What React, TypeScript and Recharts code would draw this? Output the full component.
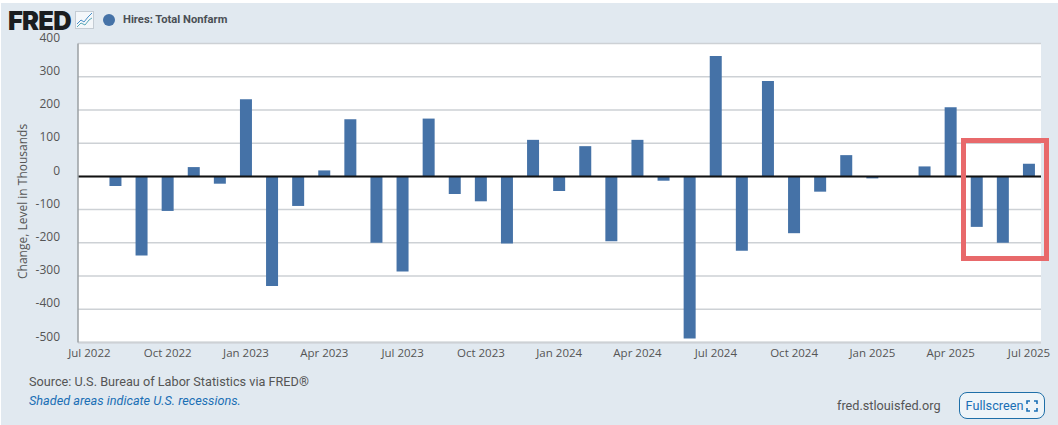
import { Bar, BarChart, CartesianGrid, Legend, ReferenceLine, XAxis, YAxis } from "recharts";

const months = [
  "Jul 2022", "Aug 2022", "Sep 2022", "Oct 2022", "Nov 2022", "Dec 2022",
  "Jan 2023", "Feb 2023", "Mar 2023", "Apr 2023", "May 2023", "Jun 2023",
  "Jul 2023", "Aug 2023", "Sep 2023", "Oct 2023", "Nov 2023", "Dec 2023",
  "Jan 2024", "Feb 2024", "Mar 2024", "Apr 2024", "May 2024", "Jun 2024",
  "Jul 2024", "Aug 2024", "Sep 2024", "Oct 2024", "Nov 2024", "Dec 2024",
  "Jan 2025", "Feb 2025", "Mar 2025", "Apr 2025", "May 2025", "Jun 2025",
  "Jul 2025",
];
const hires = [
  null, -29, -238, -104, 28, -22,
  232, -330, -89, 18, 172, -200,
  -286, 174, -53, -75, -202, 110,
  -44, 91, -195, 110, -13, -488,
  362, -224, 287, -171, -46, 64,
  -6, null, 30, 208, -152, -200,
  38,
];
const yTicks = [-500, -400, -300, -200, -100, 0, 100, 200, 300, 400];
const xTicks = [0, 3, 6, 9, 12, 15, 18, 21, 24, 27, 30, 33, 36];

const data = months.map((month, i) => ({ i, month, hires: hires[i] }));

const font = "'Open Sans', sans-serif";

function YTick({ x, y, payload }: any) {
  return (
    <text x={x} y={y - 5} textAnchor="end" dominantBaseline="middle" fontFamily={font} fontSize={12} fill="#555">
      {payload.value}
    </text>
  );
}

function LegendRow() {
  return (
    <div style={{ display: "flex", alignItems: "center", fontFamily: "Roboto, sans-serif", fontSize: 11.2, fontWeight: 700, color: "#4a4f55" }}>
      <span style={{ width: 12, height: 12, borderRadius: "50%", background: "#4572a7", marginRight: 8 }} />
      Hires: Total Nonfarm
    </div>
  );
}

export default function App() {
  return (
    <div style={{ position: "absolute", left: 0, top: 0, width: 1058, height: 425, background: "#fff", overflow: "hidden" }}>
      <div style={{ position: "absolute", left: 1, top: 3, width: 1057, height: 422, background: "#e1e9f0" }} />
      <div style={{ position: "absolute", left: 8, top: 5, fontFamily: "Inter, sans-serif", fontWeight: 900, fontSize: 25.5, letterSpacing: -0.8, color: "#1a1d20" }}>
        FRED
      </div>
      <svg style={{ position: "absolute", left: 75, top: 11 }} width={19} height={18}>
        <rect x={0.5} y={0.5} width={18} height={17} fill="#f4f7fa" stroke="#c4ccd4" />
        <polyline points="2,13 6,9 9,11 13,6 17,2" fill="none" stroke="#4a90c8" strokeWidth={1} />
        <polyline points="2,16 6,12 10,14 14,9 17,7" fill="none" stroke="#58a8b8" strokeWidth={1} />
      </svg>

      <div style={{ position: "absolute", left: 0, top: 0 }}>
        <BarChart width={1058} height={425} data={data} margin={{ top: 43.5, right: 17, bottom: 52.5, left: 0 }}>
          <CartesianGrid horizontal vertical={false} fill="#fff" stroke="#cdd1d5" strokeWidth={1.5} />
          <XAxis
            dataKey="i"
            type="number"
            height={30}
            domain={[-0.437, 36.46]}
            allowDataOverflow
            ticks={xTicks}
            interval={0}
            tickFormatter={(i: number) => months[i]}
            tick={{ fontFamily: font, fontSize: 11.5, fill: "#555" }}
            tickLine={false}
            axisLine={{ stroke: "#cdd1d5", strokeWidth: 2 }}
            tickMargin={0}
          />
          <YAxis
            width={78}
            domain={[-500, 400]}
            ticks={yTicks}
            interval={0}
            tick={<YTick />}
            tickLine={false}
            axisLine={{ stroke: "#9a9fa3", strokeWidth: 1.5 }}
            tickMargin={12}
            label={{
              value: "Change, Level in Thousands",
              angle: -90,
              position: "insideLeft",
              dx: 18,
              dy: 86,
              style: { fontFamily: font, fontSize: 12, fill: "#555" },
            }}
          />
          <Legend
            layout="horizontal"
            verticalAlign="middle"
            align="center"
            wrapperStyle={{ position: "absolute", left: 103, top: 13, width: 200 }}
            content={<LegendRow />}
          />
          <Bar dataKey="hires" name="Hires: Total Nonfarm" fill="#4572a7" barSize={12} isAnimationActive={false} />
          <ReferenceLine y={0} stroke="#111" strokeWidth={2} />
        </BarChart>
      </div>

      <div style={{ position: "absolute", left: 961, top: 138, width: 78, height: 113, border: "5.5px solid #e8696b", boxSizing: "content-box" }} />

      <div style={{ position: "absolute", left: 29, top: 374, fontFamily: "Roboto, sans-serif", fontSize: 12.7, color: "#555" }}>
        Source: U.S. Bureau of Labor Statistics via FRED®
      </div>
      <div style={{ position: "absolute", left: 29, top: 393, fontFamily: "Roboto, sans-serif", fontSize: 12.7, fontStyle: "italic", color: "#1a6fb5" }}>
        Shaded areas indicate U.S. recessions.
      </div>
      <div style={{ position: "absolute", left: 837, top: 398, fontFamily: "Roboto, sans-serif", fontSize: 12.7, color: "#555" }}>
        fred.stlouisfed.org
      </div>
      <div style={{ position: "absolute", left: 959, top: 392, width: 84, height: 25, border: "1px solid #1f6fa8", borderRadius: 8, background: "#eef4f8", fontFamily: "Roboto, sans-serif", fontSize: 12.7, color: "#1a6fb5", display: "flex", alignItems: "center", justifyContent: "center", gap: 3 }}>
        Fullscreen
        <svg width={12} height={12} fill="none" stroke="#1a6fb5" strokeWidth={1.6}>
          <path d="M1 4V1h3M8 1h3v3M11 8v3H8M4 11H1V8" />
        </svg>
      </div>
    </div>
  );
}
